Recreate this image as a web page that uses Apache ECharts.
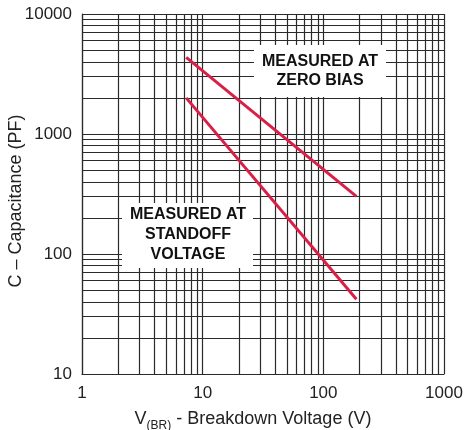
<!DOCTYPE html>
<html>
<head>
<meta charset="utf-8">
<script src="https://cdn.jsdelivr.net/npm/echarts@6/dist/echarts.min.js"></script>
<style>
  html, body { margin: 0; padding: 0; background: #fff; }
  #main { width: 467px; height: 430px; }
</style>
</head>
<body>
<div id="main"></div>
<script>
// decade ticks on both log axes
const xTicks = [1, 10, 100, 1000];
const yTicks = [10, 100, 1000, 10000];
const minorSteps = [2, 3, 4, 5, 6, 7, 8, 9];

// breakdown voltage (V) vs capacitance (pF)
const zeroBiasV = [7.3, 188];
const zeroBiasC = [4350, 302];
const standoffV = [7.3, 188];
const standoffC = [2000, 42];

const red = '#d91f47';
const gridColor = '#2a2a2a';
const font = 'Liberation Sans, Arial, sans-serif';

// minor grid lines at 2..9 of every decade
const minorLines = [];
xTicks.slice(0, -1).forEach(d => {
    minorSteps.forEach(m => minorLines.push({ xAxis: d * m }));
});
yTicks.slice(0, -1).forEach(d => {
    minorSteps.forEach(m => minorLines.push({ yAxis: d * m }));
});

const myChart = echarts.init(document.getElementById('main'));

const option = {
    animation: false,
    backgroundColor: '#fff',
    grid: {
        left: 82,
        right: 23,
        top: 14,
        bottom: 56,
        containLabel: false,
        outerBoundsMode: 'none'
    },
    xAxis: {
        type: 'log',
        logBase: 10,
        min: xTicks[0],
        max: xTicks[xTicks.length - 1],
        axisLine: { show: true, lineStyle: { color: gridColor, width: 1.2 } },
        axisTick: { show: false },
        splitLine: { show: true, lineStyle: { color: gridColor, width: 1.2 } },
        axisLabel: {
            margin: 11,
            color: '#222',
            fontSize: 17,
            fontFamily: font,
            formatter: v => String(v)
        },
        name: '{v|V}{sub|(BR)}{n| - Breakdown Voltage (V)}',
        nameLocation: 'middle',
        nameGap: 36,
        nameMoveOverlap: false,
        nameTextStyle: {
            padding: [0, 20, 0, 0],
            rich: {
                v: { fontSize: 18, fontFamily: font, color: '#222' },
                sub: { fontSize: 12, fontFamily: font, color: '#222', verticalAlign: 'bottom', padding: [0, 0, -4, 0] },
                n: { fontSize: 18, fontFamily: font, color: '#222' }
            }
        }
    },
    yAxis: {
        type: 'log',
        logBase: 10,
        min: yTicks[0],
        max: yTicks[yTicks.length - 1],
        axisLine: { show: true, lineStyle: { color: gridColor, width: 1.2 } },
        axisTick: { show: false },
        splitLine: { show: true, lineStyle: { color: gridColor, width: 1.2 } },
        axisLabel: {
            margin: 10,
            color: '#222',
            fontSize: 17,
            fontFamily: font,
            formatter: v => String(v)
        },
        name: 'C – Capacitance (PF)',
        nameLocation: 'middle',
        nameGap: 57,
        nameMoveOverlap: false,
        nameTextStyle: {
            fontSize: 18,
            fontFamily: font,
            color: '#222',
            padding: [0, 14, 0, 0]
        }
    },
    series: [
        {
            name: 'grid',
            type: 'line',
            data: [],
            silent: true,
            z: 1,
            markLine: {
                silent: true,
                symbol: ['none', 'none'],
                label: { show: false },
                lineStyle: { type: 'solid', color: gridColor, width: 1.2 },
                emphasis: { disabled: true },
                data: minorLines
            }
        },
        {
            name: 'Measured at zero bias',
            type: 'line',
            z: 5,
            showSymbol: false,
            lineStyle: { color: red, width: 3 },
            data: zeroBiasV.map((v, i) => [v, zeroBiasC[i]])
        },
        {
            name: 'Measured at standoff voltage',
            type: 'line',
            z: 5,
            showSymbol: false,
            lineStyle: { color: red, width: 3 },
            data: standoffV.map((v, i) => [v, standoffC[i]])
        }
    ],
    graphic: [
        { type: 'rect', z: 50, shape: { x: 254, y: 45, width: 132, height: 52 }, style: { fill: '#fff' } },
        {
            type: 'text',
            z: 51,
            x: 320, y: 71.5,
            style: {
                text: 'MEASURED AT\nZERO BIAS',
                align: 'center',
                verticalAlign: 'middle',
                lineHeight: 19,
                font: 'bold 16px ' + font,
                fill: '#111'
            }
        },
        { type: 'rect', z: 50, shape: { x: 122, y: 203, width: 131, height: 65 }, style: { fill: '#fff' } },
        {
            type: 'text',
            z: 51,
            x: 188, y: 235,
            style: {
                text: 'MEASURED AT\nSTANDOFF\nVOLTAGE',
                align: 'center',
                verticalAlign: 'middle',
                lineHeight: 20,
                font: 'bold 16px ' + font,
                fill: '#111'
            }
        }
    ]
};

myChart.setOption(option);
</script>
</body>
</html>
